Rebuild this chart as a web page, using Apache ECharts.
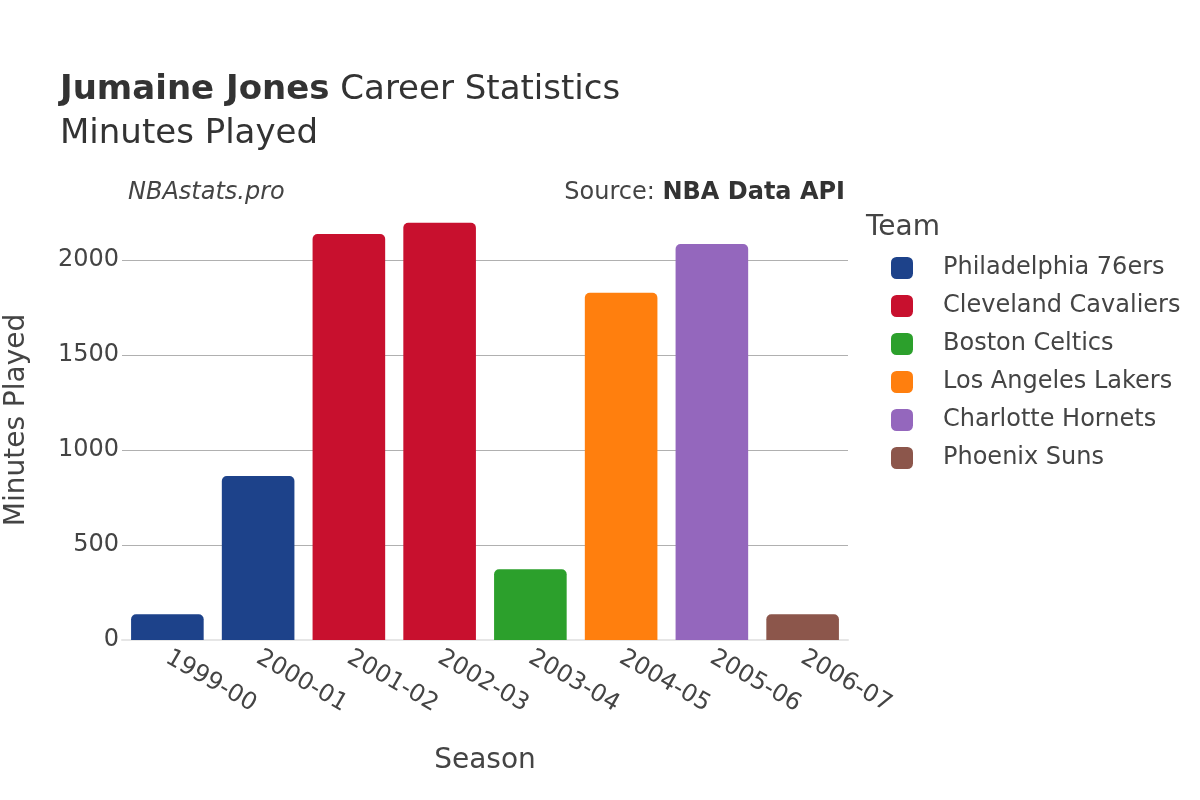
<!DOCTYPE html>
<html>
<head>
<meta charset="utf-8">
<script src="https://cdn.jsdelivr.net/npm/echarts@6/dist/echarts.min.js"></script>
<style>html,body{margin:0;padding:0;background:#fff;}#c{width:1200px;height:800px;}</style>
</head>
<body>
<div id="c"></div>
<script>
const seasons = ['1999-00','2000-01','2001-02','2002-03','2003-04','2004-05','2005-06','2006-07'];
const minutes = [135, 863, 2137, 2196, 372, 1828, 2084, 135];
const seasonTeam = ['Philadelphia 76ers','Philadelphia 76ers','Cleveland Cavaliers','Cleveland Cavaliers','Boston Celtics','Los Angeles Lakers','Charlotte Hornets','Phoenix Suns'];
const teams = ['Philadelphia 76ers','Cleveland Cavaliers','Boston Celtics','Los Angeles Lakers','Charlotte Hornets','Phoenix Suns'];
const teamColors = ['#1d428a','#c8102e','#2ca02c','#ff7f0e','#9467bd','#8c564b'];
const yTicks = [0, 500, 1000, 1500, 2000];

const FONT = 'DejaVu Sans';
const TXT = '#444';
const chart = echarts.init(document.getElementById('c'));

const series = teams.map((t, k) => ({
  name: t,
  type: 'bar',
  stack: 'total',
  barWidth: '80%',
  itemStyle: { color: teamColors[k], borderRadius: [5,5,0,0] },
  data: seasons.map((s, i) => seasonTeam[i] === t ? minutes[i] : null)
}));

chart.setOption({
  animation: false,
  textStyle: { fontFamily: FONT },
  grid: { left: 122, right: 352, top: 200, bottom: 160 },
  xAxis: {
    type: 'category',
    data: seasons,
    axisTick: { show: false },
    axisLine: { show: true, lineStyle: { color: '#e6e6e6', width: 2 } },
    axisLabel: { rotate: -30, color: TXT, fontSize: 24, fontFamily: FONT, margin: 16 }
  },
  yAxis: {
    type: 'value',
    min: 0,
    max: 2316,
    interval: 500,
    axisLine: { show: false },
    axisTick: { show: false },
    axisLabel: { color: TXT, fontSize: 24, fontFamily: FONT, margin: 3, showMaxLabel: false,
      formatter: v => yTicks.includes(v) ? String(v) : '' },
    splitLine: { show: true, showMinLine: false, showMaxLine: false, lineStyle: { color: '#b0b0b0', width: 1 } }
  },
  legend: {
    orient: 'vertical',
    left: 886,
    top: 249,
    itemWidth: 22,
    itemHeight: 22,
    itemGap: 10,
    icon: 'roundRect',
    data: teams,
    textStyle: { color: TXT, fontSize: 24, fontFamily: FONT, padding: [0,0,0,25], lineHeight: 28 }
  },
  graphic: [
    { type: 'text', x: 60, y: 90, style: { text: '{b|Jumaine Jones} Career Statistics', fill: '#333', font: '34px "DejaVu Sans"', verticalAlign: 'middle', align: 'left',
      rich: { b: { fontWeight: 'bold', fontSize: 34, fontFamily: FONT, fill: '#333' } } } },
    { type: 'text', x: 60, y: 134, style: { text: 'Minutes Played', fill: '#333', font: '34px "DejaVu Sans"', verticalAlign: 'middle', align: 'left' } },
    { type: 'text', x: 128, y: 193, style: { text: 'NBAstats.pro', fill: TXT, font: 'italic 24px "DejaVu Sans"', verticalAlign: 'middle', align: 'left' } },
    { type: 'text', x: 845, y: 193, style: { text: 'Source: {b|NBA Data API}', fill: TXT, font: '24px "DejaVu Sans"', verticalAlign: 'middle', align: 'right',
      rich: { b: { fontWeight: 'bold', fontSize: 24, fontFamily: FONT, fill: '#333' } } } },
    { type: 'text', x: 866, y: 228, style: { text: 'Team', fill: TXT, font: '28px "DejaVu Sans"', verticalAlign: 'middle', align: 'left' } },
    { type: 'text', x: 485, y: 761, style: { text: 'Season', fill: TXT, font: '28px "DejaVu Sans"', verticalAlign: 'middle', align: 'center' } },
    { type: 'text', x: 17, y: 420, rotation: Math.PI / 2, style: { text: 'Minutes Played', fill: TXT, font: '28px "DejaVu Sans"', verticalAlign: 'middle', align: 'center' } }
  ],
  series: series
});
</script>
</body>
</html>
